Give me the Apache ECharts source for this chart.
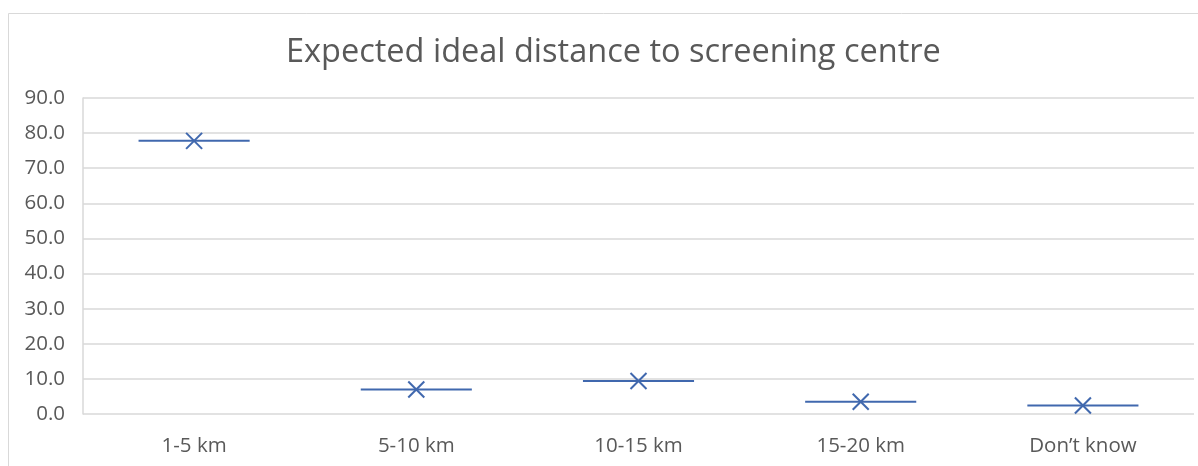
<!DOCTYPE html>
<html>
<head>
<meta charset="utf-8">
<script src="https://cdn.jsdelivr.net/npm/echarts@6/dist/echarts.min.js"></script>
<style>
html,body{margin:0;padding:0;background:#fff;}
#chart{width:1198px;height:466px;}
</style>
</head>
<body>
<div id="chart"></div>
<script>
const titleText = 'Expected ideal distance to screening centre';
const categories = ['1-5 km', '5-10 km', '10-15 km', '15-20 km', 'Don\u2019t know'];
const values = [77.8, 7.0, 9.4, 3.5, 2.4];

const chart = echarts.init(document.getElementById('chart'), null, {renderer: 'canvas'});
const blue = '#4068AE';
const fontFam = '"Open Sans", "Liberation Sans", sans-serif';

chart.setOption({
  animation: false,
  backgroundColor: '#fff',
  title: {
    text: titleText,
    left: 281,
    top: 31,
    textStyle: {fontFamily: fontFam, fontSize: 32.5, fontWeight: 'normal', color: '#595959'}
  },
  graphic: [{
    type: 'rect',
    shape: {x: 8.5, y: 13.5, width: 1200, height: 500},
    style: {fill: 'none', stroke: '#d9d9d9', lineWidth: 1},
    silent: true
  }],
  grid: {left: 83, right: 4, top: 98, bottom: 52},
  xAxis: {
    type: 'category',
    data: categories,
    axisLine: {show: false},
    axisTick: {show: false},
    axisLabel: {fontFamily: fontFam, fontSize: 20.5, color: '#595959', margin: 22},
    splitLine: {show: false}
  },
  yAxis: {
    type: 'value',
    min: 0, max: 90, interval: 10,
    axisLine: {show: true, lineStyle: {color: '#d9d9d9', width: 1.5}},
    axisTick: {show: false},
    axisLabel: {fontFamily: fontFam, fontSize: 20.5, color: '#595959', margin: 18,
      formatter: v => v.toFixed(1)},
    splitLine: {lineStyle: {color: '#d9d9d9', width: 1.5}}
  },
  series: [{
    type: 'custom',
    data: values.map((v, i) => [i, v]),
    renderItem: function (params, api) {
      const p = api.coord([api.value(0), api.value(1)]);
      const bw = api.size([1, 0])[0];
      const half = bw / 4;
      const m = 8;
      return {
        type: 'group',
        children: [
          {type: 'line', shape: {x1: p[0] - half, y1: p[1], x2: p[0] + half, y2: p[1]},
            style: {stroke: blue, lineWidth: 2}},
          {type: 'line', shape: {x1: p[0] - m, y1: p[1] - m, x2: p[0] + m, y2: p[1] + m},
            style: {stroke: blue, lineWidth: 2}},
          {type: 'line', shape: {x1: p[0] - m, y1: p[1] + m, x2: p[0] + m, y2: p[1] - m},
            style: {stroke: blue, lineWidth: 2}}
        ]
      };
    }
  }]
});
</script>
</body>
</html>
